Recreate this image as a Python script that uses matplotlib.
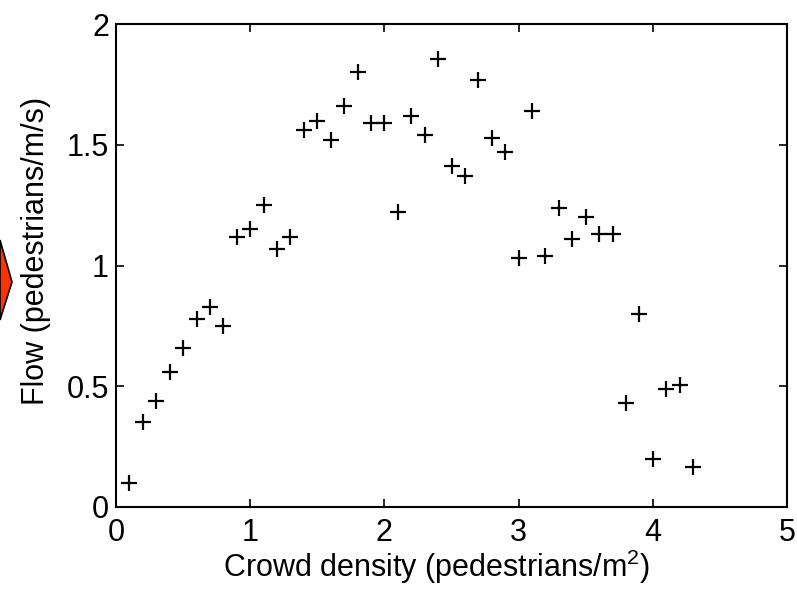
import matplotlib.pyplot as plt
from matplotlib.patches import Polygon

# Crowd density vs flow
density = [0.1, 0.2, 0.3, 0.4, 0.5, 0.6, 0.7, 0.8, 0.9, 1.0,
           1.1, 1.2, 1.3, 1.4, 1.5, 1.6, 1.7, 1.8, 1.9, 2.0,
           2.1, 2.2, 2.3, 2.4, 2.5, 2.6, 2.7, 2.8, 2.9, 3.0,
           3.1, 3.2, 3.3, 3.4, 3.5, 3.6, 3.7, 3.8, 3.9, 4.0,
           4.1, 4.2, 4.3]
flow = [0.10, 0.35, 0.44, 0.56, 0.66, 0.78, 0.83, 0.75, 1.12, 1.15,
        1.25, 1.07, 1.12, 1.56, 1.60, 1.52, 1.66, 1.80, 1.59, 1.59,
        1.22, 1.62, 1.54, 1.855, 1.41, 1.37, 1.77, 1.53, 1.47, 1.03,
        1.64, 1.04, 1.24, 1.11, 1.20, 1.13, 1.13, 0.43, 0.80, 0.20,
        0.49, 0.505, 0.165]

xticks = [0, 1, 2, 3, 4, 5]
yticks = [0, 0.5, 1, 1.5, 2]
ytick_labels = ['0', '0.5', '1', '1.5', '2']

plt.rcParams['font.family'] = ['Liberation Sans', 'DejaVu Sans']
plt.rcParams['mathtext.fontset'] = 'custom'
plt.rcParams['mathtext.rm'] = 'Liberation Sans'

fig = plt.figure(figsize=(7.97, 5.94), dpi=100)
ax = fig.add_axes([116 / 797, 1 - 507 / 594, 671 / 797, 483 / 594])

ax.plot(density, flow, linestyle='none', marker='+', color='black',
        markersize=11, markeredgewidth=1.6)

ax.set_xlim(0, 5)
ax.set_ylim(0, 2)
ax.set_xticks(xticks)
ax.set_yticks(yticks)
ax.set_xticklabels([str(t) for t in xticks])
ax.set_yticklabels(ytick_labels)
ax.tick_params(direction='in', length=6, width=1.2, labelsize=22,
               top=True, right=True)
ax.tick_params(axis='x', pad=8)
ax.tick_params(axis='y', pad=5)
for s in ax.spines.values():
    s.set_linewidth(1.5)

ax.set_xlabel('Crowd density (pedestrians/m$^{2}$)', fontsize=22, labelpad=0)
ax.set_ylabel('Flow (pedestrians/m/s)', fontsize=22, labelpad=11)
ax.xaxis.label.set_x(0.477)
ax.yaxis.label.set_y(0.53)

# orange arrow tip at the left edge
arrow = Polygon([[0, 1 - 240 / 594], [12 / 797, 1 - 282 / 594], [0, 1 - 320 / 594]],
                closed=True, transform=fig.transFigure, facecolor='#ff3300',
                edgecolor='black', linewidth=1.2, clip_on=False)
fig.patches.append(arrow)

fig.savefig('out.png', dpi=100)
